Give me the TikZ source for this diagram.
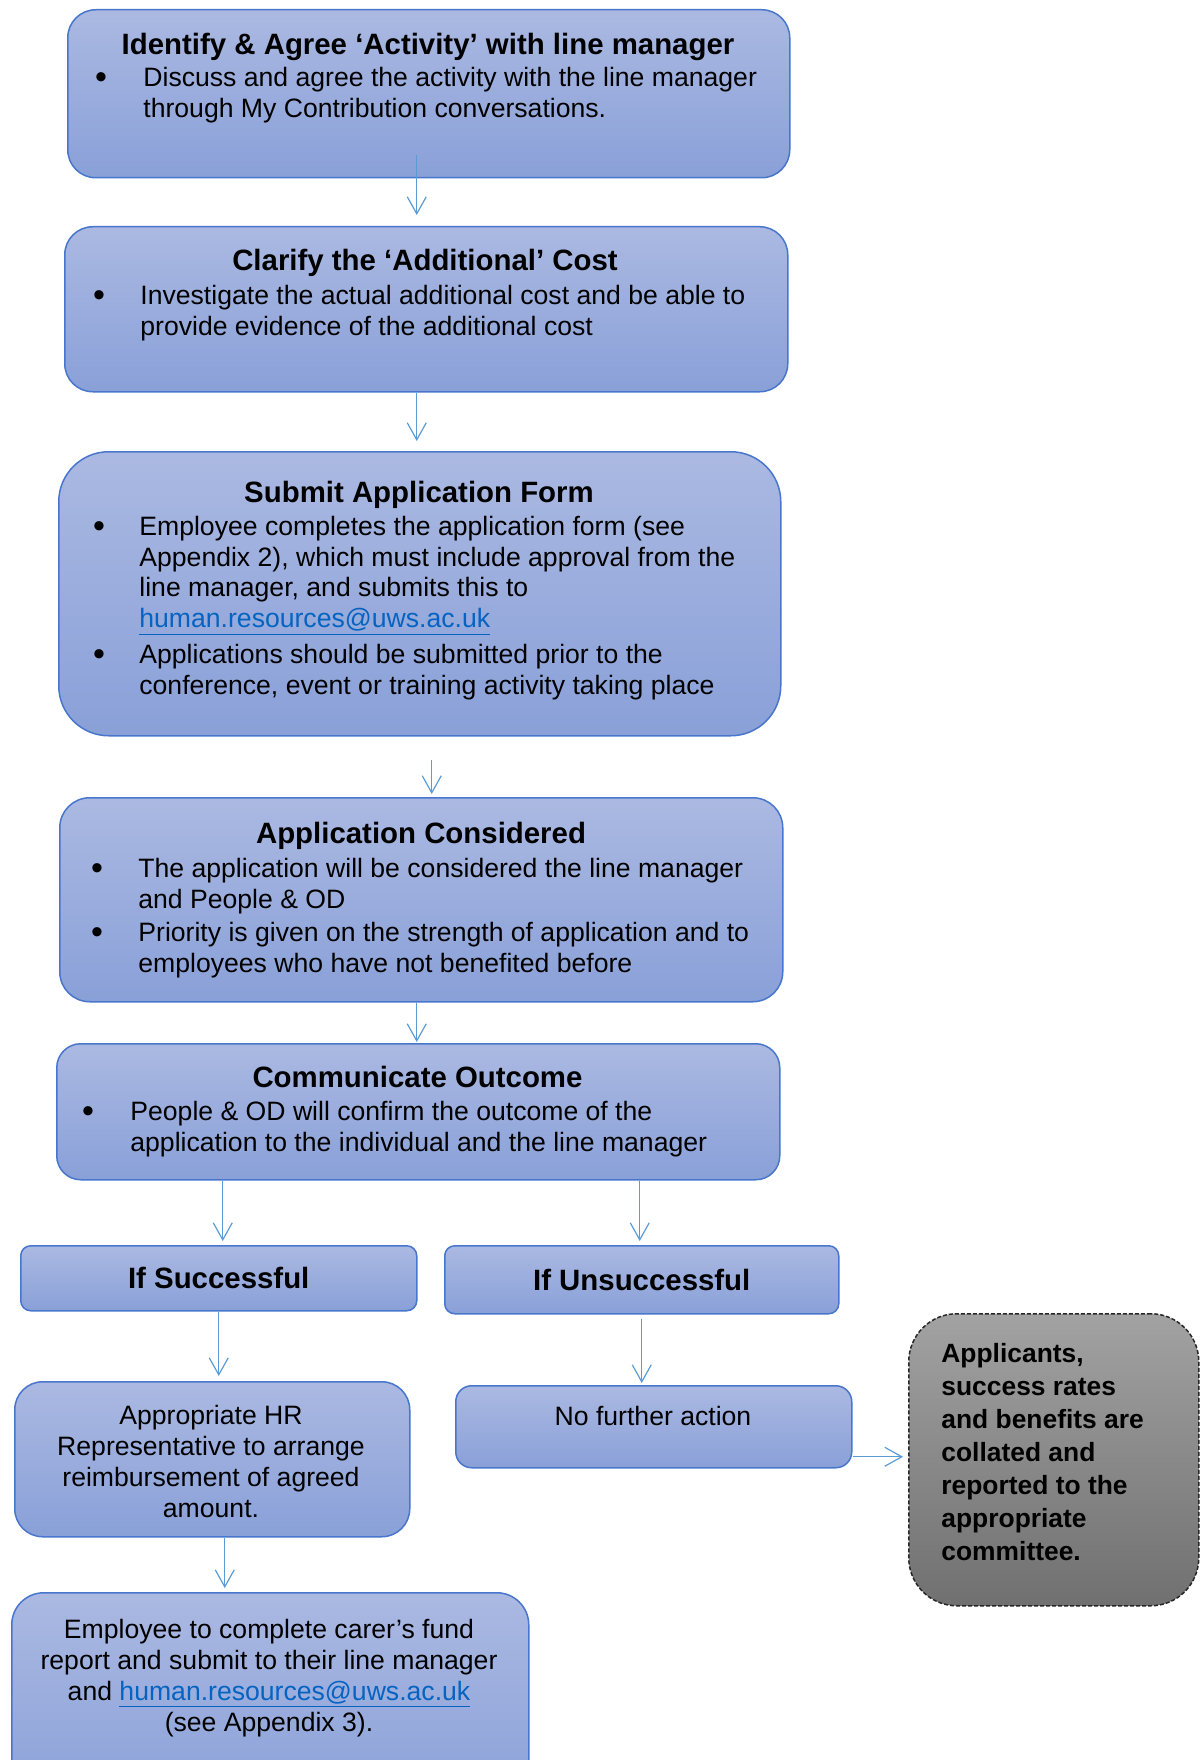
\documentclass[tikz,border=0pt]{standalone}
\usepackage{fontspec}
\setmainfont{Liberation Sans}
\usetikzlibrary{arrows.meta}
\definecolor{boxtop}{RGB}{171,185,226}
\definecolor{boxbot}{RGB}{137,160,216}
\definecolor{boxline}{RGB}{72,118,204}
\definecolor{arrowc}{RGB}{91,155,213}
\definecolor{greytop}{RGB}{162,162,162}
\definecolor{greybot}{RGB}{112,112,112}
\definecolor{linkc}{RGB}{5,99,193}
\newcommand\mylink[1]{\textcolor{linkc}{\underline{#1}}}
\newcommand\bodyfont{\fontsize{13.3}{15.5}\selectfont}
\newcommand\titlefont{\fontsize{14.7}{17}\selectfont\bfseries}
\tikzset{
  bluebox/.style={draw=boxline, line width=0.75pt, top color=boxtop, bottom color=boxbot,
    anchor=north west, inner sep=0pt},
  greybox/.style={draw=black!85, line width=0.75pt, dash pattern=on 2pt off 1pt,
    top color=greytop, bottom color=greybot, anchor=north west, inner sep=0pt},
  titletext/.style={inner sep=0pt, anchor=base, font=\titlefont},
  bodytext/.style={inner sep=0pt, anchor=base west, align=left, font=\bodyfont},
  ctrtext/.style={inner sep=0pt, align=center, font=\bodyfont},
  bul/.style={inner sep=0pt, anchor=base, font=\fontsize{17}{17}\selectfont, yshift=-1pt},
  arr/.style={draw=arrowc, line width=0.6pt, -{Straight Barb[length=8.5pt, width=9.5pt, line width=0.6pt]}}
}
\begin{document}
\begin{tikzpicture}[x=0.5pt, y=-0.5pt]
\useasboundingbox (0,0) rectangle (1200,1760);

% Box 1
\node[bluebox, rounded corners=14pt, minimum width=361pt, minimum height=84pt] (b1) at (67,9) {};
\node[titletext] (t1) at (428,54.5) {Identify \& Agree ‘Activity’ with line manager};
\node[bul] (d1) at (101,86.5) {•};
\node[bodytext] (p1) at (143,117.5) {Discuss and agree the activity with the line manager\\through My Contribution conversations.};

% Box 2
\node[bluebox, rounded corners=14pt, minimum width=361.5pt, minimum height=82.5pt] (b2) at (64,226) {};
\node[titletext] (t2) at (425,270.5) {Clarify the ‘Additional’ Cost};
\node[bul] (d2) at (99,304.5) {•};
\node[bodytext] (p2) at (140,335.5) {Investigate the actual additional cost and be able to\\provide evidence of the additional cost};

% Box 3
\node[bluebox, rounded corners=25pt, minimum width=361pt, minimum height=142pt] (b3) at (58,451) {};
\node[titletext] (t3) at (419,502.5) {Submit Application Form};
\node[bul] (d3a) at (99,535.5) {•};
\node[bodytext, font=\fontsize{13.3}{15.35}\selectfont] (p3a) at (139,627.6) {Employee completes the application form (see\\Appendix 2), which must include approval from the\\line manager, and submits this to\\\mylink{human.resources@uws.ac.uk}};
\node[bul] (d3b) at (99,663.5) {•};
\node[bodytext] (p3b) at (139,694.5) {Applications should be submitted prior to the\\conference, event or training activity taking place};

% Box 4
\node[bluebox, rounded corners=15pt, minimum width=361.5pt, minimum height=102pt] (b4) at (59,797) {};
\node[titletext] (t4) at (421,843.5) {Application Considered};
\node[bul] (d4a) at (97,877.5) {•};
\node[bodytext] (p4a) at (138,908.5) {The application will be considered the line manager\\and People \& OD};
\node[bul] (d4b) at (97,941) {•};
\node[bodytext] (p4b) at (138,972) {Priority is given on the strength of application and to\\employees who have not benefited before};

% Box 5
\node[bluebox, rounded corners=12pt, minimum width=361.5pt, minimum height=68pt] (b5) at (56,1043) {};
\node[titletext] (t5) at (417.5,1087.5) {Communicate Outcome};
\node[bul] (d5) at (88,1120.5) {•};
\node[bodytext] (p5) at (130,1151.5) {People \& OD  will confirm the outcome of the\\application to the individual and the line manager};

% Outcome boxes
\node[bluebox, rounded corners=5pt, minimum width=198pt, minimum height=32.5pt, font=\titlefont] (s1) at (20,1245) {If Successful};
\node[bluebox, rounded corners=5pt, minimum width=197pt, minimum height=34pt, font=\titlefont] (u1) at (444,1245) {If Unsuccessful};

% HR box
\node[bluebox, rounded corners=14pt, minimum width=197.5pt, minimum height=77.5pt] (hr) at (14,1381) {};
\node[ctrtext] (hrt) at (211,1461.5) {Appropriate HR\\Representative to arrange\\reimbursement of agreed\\amount.};

% No further action
\node[bluebox, rounded corners=8pt, minimum width=198pt, minimum height=41pt] (nfa) at (455,1385) {};
\node[inner sep=0pt, anchor=base, font=\bodyfont] (nfat) at (653,1425.5) {No further action};

% Applicants box
\node[greybox, rounded corners=24pt, minimum width=145pt, minimum height=146pt] (app) at (908,1313) {};
\node[inner sep=0pt, anchor=base west, align=left, font=\fontsize{13.2}{16.5}\selectfont\bfseries] (appt) at (941,1560.5) {Applicants,\\success rates\\and benefits are\\collated and\\reported to the\\appropriate\\committee.};

% Employee box
\node[bluebox, rounded corners=16pt, minimum width=258.5pt, minimum height=110pt] (emp) at (11,1592) {};
\node[inner sep=0pt, anchor=base, align=center, font=\bodyfont] (empt) at (269,1731) {Employee to complete carer’s fund\\report and submit to their line manager\\and \mylink{human.resources@uws.ac.uk}\\(see Appendix 3).};

% Connectors
\draw[arr] ([shift={(-12,-23)}]b1.south) -- ([shift={(-9.5,-11)}]b2.north);
\draw[arr] ([shift={(-9.5,0)}]b2.south) -- ([shift={(-3,-10)}]b3.north);
\draw[arr] ([shift={(12,23)}]b3.south) -- ([shift={(10.5,-3)}]b4.north);
\draw[arr] ([shift={(-4.5,0)}]b4.south) -- ([shift={(-1.5,-1)}]b5.north);
\draw[arr] ([shift={(4,0)}]s1.north |- b5.south) -- ([shift={(4,-4)}]s1.north);
\draw[arr] ([shift={(-2,0)}]u1.north |- b5.south) -- ([shift={(-2,-4)}]u1.north);
\draw[arr] (s1.south) -- ([shift={(0,-5)}]s1.south |- hr.north);
\draw[arr] ([shift={(0,4)}]u1.south) -- ([shift={(0,-2)}]u1.south |- nfa.north);
\draw[arr] ([shift={(0,30)}]nfa.east) coordinate (a9s) -- ([shift={(-5,0)}]app.west |- a9s);
\draw[arr] ([shift={(12.5,0)}]hr.south) -- ([shift={(12.5,-4)}]hr.south |- emp.north);
\end{tikzpicture}
\end{document}
